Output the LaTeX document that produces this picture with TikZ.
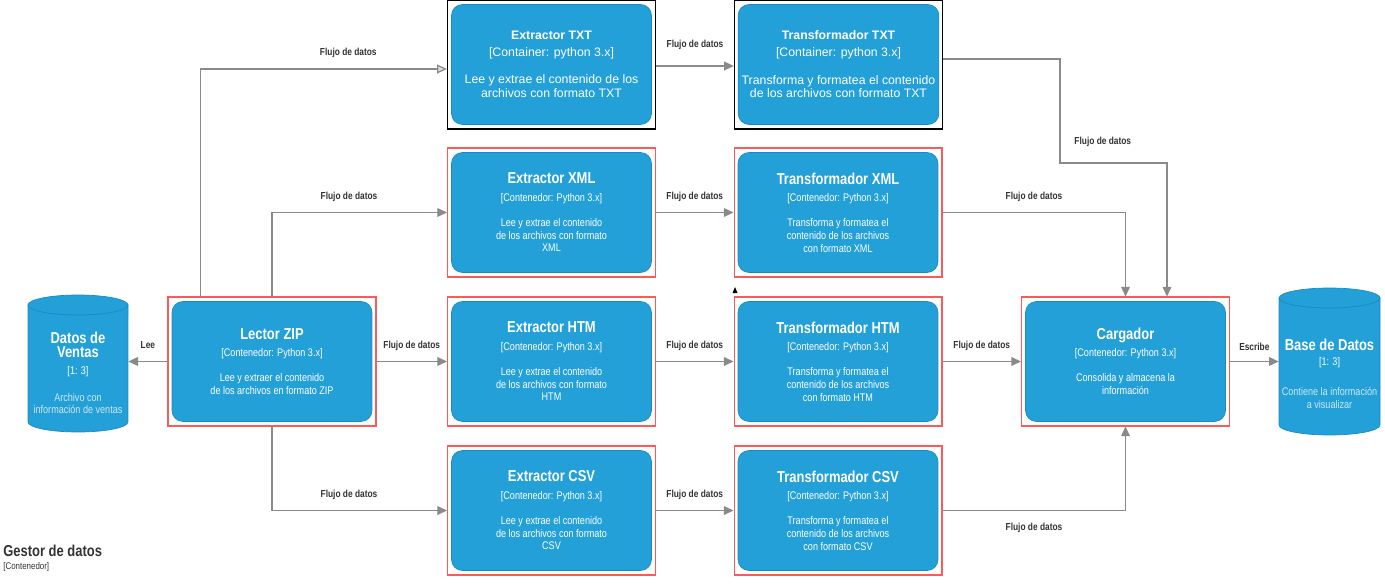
\documentclass[tikz,border=0pt]{standalone}
\usepackage{fontspec}
\setmainfont{Liberation Sans}
\newfontfamily\condfont{Liberation Sans}[FakeStretch=0.82]
\usetikzlibrary{positioning,arrows.meta,calc}
\definecolor{boxblue}{RGB}{35,160,216}
\definecolor{boxedge}{RGB}{28,138,192}
\definecolor{framered}{RGB}{250,90,90}
\definecolor{flowgray}{RGB}{138,138,138}
\definecolor{labelgray}{RGB}{51,51,51}
\definecolor{paleblue}{RGB}{205,232,246}

\newcommand{\ctitle}[1]{{\fontsize{9}{10}\selectfont\bfseries #1}}
\newcommand{\ttitle}[1]{{\bfseries #1}}
\newcommand{\ctag}[1]{{[}#1{]}}
\newcommand{\pale}[1]{{\color{paleblue}#1}}

\begin{document}
\begin{tikzpicture}[x=0.02cm, y=-0.02cm,
    frame/.style={rectangle, draw=framered, line width=0.6pt, minimum width=4.16cm, minimum height=2.58cm, inner sep=0pt},
    blackframe/.style={frame, draw=black, line width=0.8pt},
    container/.style={rectangle, rounded corners=0.22cm, fill=boxblue, draw=boxedge, line width=0.4pt, text=white, align=center, minimum width=4cm, minimum height=2.4cm, inner sep=2pt, font=\condfont\fontsize{6.3}{7.3}\selectfont},
    txtbox/.style={container, font=\fontsize{7}{7.8}\selectfont},
    dbtext/.style={align=center, text=white, minimum width=2cm, inner sep=0pt, font=\condfont\fontsize{6.3}{7.3}\selectfont},
    flow/.style={draw=flowgray, line width=0.7pt, -{Triangle[length=5.5pt,width=5pt]}},
    flowopen/.style={flow, -{Triangle[length=5.5pt,width=5pt,fill=gray!25]}},
    small/.style={font=\condfont\fontsize{5.8}{6}\selectfont\bfseries, text=labelgray, inner sep=2pt}
]
\useasboundingbox (0,0) rectangle (1385,584);

% databases
\path[fill=boxblue, draw=boxedge] (28,305) -- (28,422) arc[start angle=180, end angle=360, x radius=1cm, y radius=0.2cm] -- (128,305) -- cycle;
\path[fill=boxblue, draw=boxedge] (78,305) ellipse [x radius=1cm, y radius=0.2cm];
\node[dbtext] (dv) at (78,373) {\ctitle{Datos de}\\[1pt] \ctitle{Ventas}\\[2pt] \ctag{1: 3}\\[8pt] \pale{Archivo con}\\ \pale{información de ventas}};

\path[fill=boxblue, draw=boxedge] (1279,298) -- (1279,425) arc[start angle=180, end angle=360, x radius=1.01cm, y radius=0.2cm] -- (1380,298) -- cycle;
\path[fill=boxblue, draw=boxedge] (1329.5,298) ellipse [x radius=1.01cm, y radius=0.2cm];
\node[dbtext, minimum width=2.02cm] (bd) at (1329.5,374) {\ctitle{Base de Datos}\\[1pt] \ctag{1: 3}\\[10pt] \pale{Contiene la información}\\ \pale{a visualizar}};

% reader
\node[frame] (zipf) at (272,361.5) {};
\node[container] (zip) at (zipf.center) {\ctitle{Lector ZIP}\\[2.5pt] \ctag{Contenedor: Python 3.x}\\[7pt] Lee y extraer el contenido\\ de los archivos en formato ZIP};

% TXT row
\node[blackframe] (txtxf) at (551.5,64.5) {};
\node[txtbox] (txtx) at (txtxf.center) {\ttitle{Extractor TXT}\\[1.5pt] \ctag{Container: python 3.x}\\[8pt] Lee y extrae el contenido de los\\ archivos con formato TXT};
\node[blackframe] (txttf) at (838.5,64.5) {};
\node[txtbox] (txtt) at (txttf.center) {\ttitle{Transformador TXT}\\[1.5pt] \ctag{Container: python 3.x}\\[8pt] Transforma y formatea el contenido\\ de los archivos con formato TXT};

% XML row
\node[frame] (xmlxf) at (551.5,212.5) {};
\node[container] (xmlx) at (xmlxf.center) {\ctitle{Extractor XML}\\[2.5pt] \ctag{Contenedor: Python 3.x}\\[7pt] Lee y extrae el contenido\\ de los archivos con formato\\ XML};
\node[frame] (xmltf) at (838,212.5) {};
\node[container] (xmlt) at (xmltf.center) {\ctitle{Transformador XML}\\[2.5pt] \ctag{Contenedor: Python 3.x}\\[7pt] Transforma y formatea el\\ contenido de los archivos\\ con formato XML};

% HTM row
\node[frame] (htmxf) at (551.5,361.5) {};
\node[container] (htmx) at (htmxf.center) {\ctitle{Extractor HTM}\\[2.5pt] \ctag{Contenedor: Python 3.x}\\[7pt] Lee y extrae el contenido\\ de los archivos con formato\\ HTM};
\node[frame] (htmtf) at (838,361.5) {};
\node[container] (htmt) at (htmtf.center) {\ctitle{Transformador HTM}\\[2.5pt] \ctag{Contenedor: Python 3.x}\\[7pt] Transforma y formatea el\\ contenido de los archivos\\ con formato HTM};

% CSV row
\node[frame] (csvxf) at (551.5,510.5) {};
\node[container] (csvx) at (csvxf.center) {\ctitle{Extractor CSV}\\[2.5pt] \ctag{Contenedor: Python 3.x}\\[7pt] Lee y extrae el contenido\\ de los archivos con formato\\ CSV};
\node[frame] (csvtf) at (838,510.5) {};
\node[container] (csvt) at (csvtf.center) {\ctitle{Transformador CSV}\\[2.5pt] \ctag{Contenedor: Python 3.x}\\[7pt] Transforma y formatea el\\ contenido de los archivos\\ con formato CSV};

% loader
\node[frame] (cargf) at (1125.5,361.5) {};
\node[container] (carg) at (cargf.center) {\ctitle{Cargador}\\[2.5pt] \ctag{Contenedor: Python 3.x}\\[7pt] Consolida y almacena la\\ información};

% connectors
\draw[flow] (zipf.west) -- node[above=5pt,small] {Lee} (zipf.west -| dv.east);
\draw[flowopen] ($(zipf.north west)+(33,0)$) |- node[pos=0.8,above=4pt,small] {Flujo de datos} ($(txtxf.west)+(0,4.5)$);
\draw[flow] (zipf.north) |- node[pos=0.72,above=4pt,small] {Flujo de datos} (xmlxf.west);
\draw[flow] (zipf.east) -- node[above=4pt,small] {Flujo de datos} (htmxf.west);
\draw[flow] (zipf.south) |- node[pos=0.72,above=4pt,small] {Flujo de datos} (csvxf.west);

\draw[flow] ($(txtxf.east)+(0,1.5)$) -- node[above=7pt,small] {Flujo de datos} ($(txttf.west)+(0,1.5)$);
\draw[flow] (xmlxf) -- node[above=4pt,small] {Flujo de datos} (xmltf);
\draw[flow] (htmxf) -- node[above=4pt,small] {Flujo de datos} (htmtf);
\draw[flow] (csvxf) -- node[above=4pt,small] {Flujo de datos} (csvtf);

\draw[flow] ($(txttf.east)+(0,-5.5)$) -| (1060,163) -| node[pos=0.2,above=7pt,small] {Flujo de datos} ($(cargf.north)+(41.5,0)$);
\draw[flow] (xmltf.east) -| node[pos=0.25,above=4pt,small] {Flujo de datos} (cargf.north);
\draw[flow] (htmtf) -- node[above=4pt,small] {Flujo de datos} (cargf);
\draw[flow] (csvtf.east) -| node[pos=0.25,below=5pt,small] {Flujo de datos} (cargf.south);
\draw[flow] (cargf.east) -- node[above=4pt,small] {Escribe} (cargf.east -| bd.west);

\fill (732.5,293) -- (737.5,293) -- (735,287) -- cycle;

% container title
\node[anchor=west, inner sep=0pt, text=labelgray, font=\condfont\fontsize{9}{10}\selectfont\bfseries] (gestor) at (3,551) {Gestor de datos};
\node[below=3pt of gestor.south west, anchor=north west, inner sep=0pt, text=labelgray, font=\condfont\fontsize{5.5}{6}\selectfont] (gestortag) {\ctag{Contenedor}};
\end{tikzpicture}
\end{document}
